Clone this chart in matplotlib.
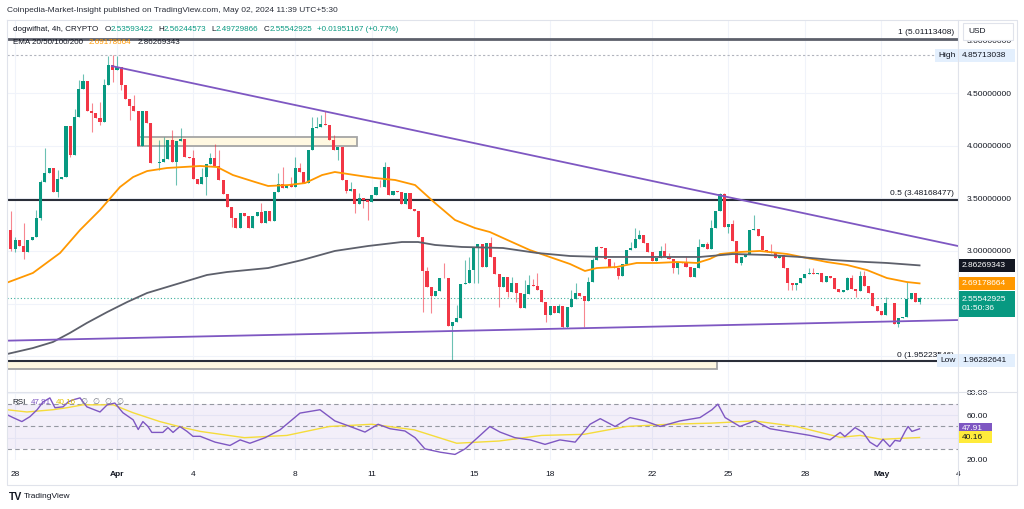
import matplotlib.pyplot as plt
from matplotlib.patches import Rectangle

plt.rcParams['font.family'] = ['Liberation Sans', 'DejaVu Sans']

# 4h candles, Mar 27 20:00 -> May 2 (closes, open = previous close)
first_open = 3.199
closes = [
    3.015, 3.104, 3.047, 2.993, 3.104, 3.129, 3.316, 3.658, 3.743, 3.791,
    3.556, 3.680, 3.705, 4.186, 3.911, 4.269, 4.535, 4.614, 4.332, 4.313,
    4.259, 4.224, 4.576, 4.766, 4.718, 4.750, 4.576, 4.440, 4.379, 4.329,
    3.996, 4.329, 4.218, 3.832, 3.838, 3.848, 3.870, 4.053, 3.848, 4.047,
    4.063, 3.889, 3.879, 3.680, 3.635, 3.705, 3.825, 3.879, 3.806, 3.673,
    3.540, 3.420, 3.316, 3.214, 3.357, 3.332, 3.214, 3.332, 3.373, 3.268,
    3.379, 3.284, 3.563, 3.635, 3.594, 3.626, 3.610, 3.784, 3.753, 3.648,
    3.958, 4.164, 4.174, 4.202, 4.196, 4.053, 3.958, 3.984, 3.673, 3.572,
    3.585, 3.446, 3.506, 3.484, 3.468, 3.531, 3.610, 3.604, 3.794, 3.531,
    3.572, 3.563, 3.446, 3.553, 3.395, 3.379, 3.129, 2.812, 2.654, 2.572,
    2.622, 2.746, 2.740, 2.287, 2.328, 2.360, 2.683, 2.698, 2.819, 3.025,
    3.066, 2.851, 3.072, 2.946, 2.781, 2.661, 2.750, 2.613, 2.692, 2.597,
    2.455, 2.591, 2.677, 2.670, 2.629, 2.518, 2.392, 2.477, 2.414, 2.477,
    2.281, 2.465, 2.541, 2.597, 2.572, 2.528, 2.702, 2.914, 3.034, 3.025,
    2.920, 2.851, 2.841, 2.762, 2.876, 3.009, 3.025, 3.110, 3.151, 3.079,
    2.993, 2.908, 2.930, 3.003, 2.939, 2.920, 2.841, 2.898, 2.889, 2.851,
    2.750, 2.835, 3.041, 3.066, 3.015, 3.215, 3.379, 3.538, 3.231, 3.256,
    3.098, 2.889, 2.940, 2.971, 3.199, 3.205, 3.142, 3.009, 2.993, 2.977,
    2.930, 2.961, 2.841, 2.692, 2.677, 2.692, 2.746, 2.781, 2.787, 2.781,
    2.794, 2.709, 2.762, 2.740, 2.635, 2.613, 2.629, 2.740, 2.635, 2.623,
    2.765, 2.667, 2.597, 2.477, 2.433, 2.392, 2.509, 2.503, 2.306, 2.360,
    2.370, 2.541, 2.604, 2.518, 2.555,
]
# wicks that stick out of the body (candle number counted from 1)
highs = {
    1: 3.38, 2: 3.135, 4: 3.27, 7: 3.39, 8: 3.674, 9: 3.974, 12: 3.768, 16: 4.348,
    17: 4.623, 18: 4.677, 20: 4.402, 22: 4.417, 23: 4.633, 24: 4.854, 25: 4.857,
    26: 4.854, 30: 4.481, 36: 4.053, 37: 4.085, 39: 4.148, 41: 4.164, 44: 3.958,
    46: 3.784, 48: 3.927, 49: 4.015, 50: 3.958, 60: 3.458, 64: 3.737, 65: 3.794,
    67: 3.705, 68: 3.895, 69: 3.832, 72: 4.269, 73: 4.269, 74: 4.291, 75: 4.332,
    77: 4.101, 81: 3.658, 83: 3.547, 88: 3.673, 89: 3.848, 99: 2.850, 103: 2.882,
    106: 2.486, 108: 2.914, 109: 2.945, 110: 3.04, 114: 3.136, 119: 2.756,
    122: 2.724, 123: 2.772, 124: 2.731, 125: 2.787, 130: 2.50, 133: 2.629,
    134: 2.692, 137: 2.756, 138: 2.930, 139: 3.047, 143: 2.897, 147: 3.088,
    148: 3.215, 149: 3.199, 154: 3.047, 155: 3.072, 156: 2.977, 160: 2.952,
    163: 3.113, 165: 3.088, 166: 3.294, 168: 3.554, 169: 3.554, 171: 3.294,
    176: 3.341, 180: 3.07, 189: 2.835, 190: 2.835, 198: 2.756, 199: 2.772,
    201: 2.813, 202: 2.813, 207: 2.566, 212: 2.708, 215: 2.562,
}
lows = {
    1: 3.00, 2: 2.99, 4: 2.92, 8: 3.293, 12: 3.515, 15: 3.889, 20: 4.132,
    22: 4.196, 25: 4.607, 27: 4.528, 29: 4.243, 36: 3.768, 40: 3.626, 47: 3.531,
    53: 3.230, 78: 3.863, 80: 3.547, 82: 3.357, 84: 3.404, 85: 3.294, 98: 2.423,
    100: 2.414, 105: 1.963, 110: 2.692, 111: 2.692, 116: 2.471, 118: 2.566,
    120: 2.518, 127: 2.328, 131: 2.265, 132: 2.265, 136: 2.275, 144: 2.731,
    157: 2.787, 158: 2.781, 170: 3.167, 173: 2.867, 184: 2.629, 185: 2.629,
    186: 2.629, 200: 2.566, 210: 2.275, 215: 2.497,
}

# EMA 50 (orange) and EMA 200 (grey), sampled at candle positions
ema50_x = [-0.9, 5.2, 11.6, 16.3, 21.0, 25.7, 28.8, 32.1, 36.8, 44.6, 48.6, 52.3, 57.5,
           60.6, 65.3, 69.3, 73.3, 76.3, 81.0, 85.7, 90.5, 95.2, 99.9, 104.6, 109.3,
           112.8, 117.5, 122.2, 126.9, 131.7, 135.2, 138.0, 142.7, 147.4, 152.1, 156.9,
           161.6, 164.6, 167.0, 171.7, 176.4, 182.8, 187.5, 192.2, 196.9, 201.6, 206.3,
           211.0, 214]
ema50_v = [2.699, 2.791, 2.981, 3.199, 3.389, 3.607, 3.702, 3.759, 3.788, 3.807, 3.797,
           3.721, 3.655, 3.617, 3.626, 3.645, 3.721, 3.750, 3.721, 3.693, 3.674, 3.626,
           3.455, 3.294, 3.218, 3.180, 3.094, 3.009, 2.943, 2.876, 2.810, 2.838, 2.848,
           2.886, 2.886, 2.895, 2.886, 2.924, 2.971, 2.990, 3.000, 2.971, 2.933, 2.895,
           2.867, 2.819, 2.743, 2.705, 2.692]
ema200_x = [-0.9, 5.2, 9.9, 13.9, 17.9, 22.7, 27.4, 32.1, 36.8, 41.5, 46.2, 50.9, 60.6,
            68.6, 76.3, 84.1, 92.1, 95.9, 99.9, 106.2, 115.9, 123.9, 131.7, 139.4, 147.4,
            155.2, 162.3, 170.0, 178.1, 185.8, 193.6, 201.6, 206.3, 214]
ema200_v = [2.021, 2.078, 2.135, 2.221, 2.316, 2.420, 2.515, 2.601, 2.658, 2.715, 2.772,
            2.800, 2.838, 2.914, 3.000, 3.047, 3.085, 3.085, 3.057, 3.038, 3.028, 2.981,
            2.952, 2.943, 2.943, 2.943, 2.943, 2.971, 2.962, 2.943, 2.914, 2.895, 2.886,
            2.863]

# RSI and its moving average
rsi_x = [-0.9, 0.5, 2.6, 4.5, 6.2, 7.6, 9.2, 10.4, 12.3, 13.5, 14.6, 16.3, 17.9, 21.0,
         22.7, 24.5, 26.4, 28.8, 30.0, 31.1, 32.3, 33.2, 35.8, 37.0, 38.2, 39.8, 41.5,
         42.9, 44.6, 48.1, 51.6, 54.0, 56.3, 59.9, 63.4, 68.1, 72.8, 76.3, 79.9, 83.4,
         86.5, 89.3, 92.8, 95.2, 97.5, 101.1, 104.6, 107.0, 110.5, 112.8, 115.2, 118.7,
         122.3, 125.8, 129.3, 132.9, 136.4, 138.8, 142.3, 145.8, 149.3, 152.9, 157.6,
         162.3, 165.1, 166.5, 168.2, 171.7, 175.2, 178.8, 183.5, 188.2, 192.9, 195.3,
         196.4, 198.8, 200.7, 202.3, 204.0, 205.4, 207.0, 208.2, 209.4, 210.6, 211.3,
         212.2, 214]
rsi_v = [60.6, 58, 54.4, 58.8, 65, 72, 75.6, 66.8, 67.6, 72, 73.8, 75.6, 67.6, 63, 69.4,
         71, 62.3, 56, 47.3, 54.4, 50, 44.7, 44.7, 49, 44.7, 50, 45.6, 41.2, 41.2, 36, 33,
         38, 35, 40, 47, 62, 65, 55, 50, 45, 52, 48, 46, 40, 30, 27, 25, 30, 42, 50, 45,
         40, 38, 34, 38, 36, 52, 57, 50, 58, 55, 50, 55, 58, 65, 70, 58, 50, 55, 48, 45,
         42, 38, 44.7, 41, 49, 44.7, 36, 32, 38.5, 32, 37.6, 36.8, 45.6, 50, 45.6, 47.91]
rsi_ma_x = [-0.9, 3.8, 9.9, 13.2, 17.0, 24.1, 28.8, 35.1, 40.6, 44.6, 55, 65, 75, 85, 95,
            105, 115, 125, 135, 145, 155, 165, 175, 185, 195.3, 200.0, 205.0, 214]
rsi_ma_v = [65, 63, 65, 66.8, 69.4, 69.4, 62.3, 54.4, 49, 45.6, 40, 42, 50, 52, 47, 35,
            37, 42, 43, 50, 52, 53, 55, 50, 40.3, 42, 38.5, 40.16]

# x axis: day labels, offset in days from Mar 28
day_offsets = [0, 4, 7, 11, 14, 18, 21, 25, 28, 31, 34, 37]
day_labels = ['28', 'Apr', '4', '8', '11', '15', '18', '22', '25', '28', 'May', '4']

# price scale labels (the ones hidden behind tags are left blank)
price_ticks = [2.0, 2.5, 3.0, 3.5, 4.0, 4.5, 5.0]
price_labels = ['', '', '3.00000000', '3.50000000', '4.00000000', '4.50000000',
                '5.00000000']
rsi_ticks = [20, 40, 60, 80]
rsi_labels = ['20.00', '', '60.00', '80.00']

# drawing levels
fib_levels = [5.01113408, 3.48168477, 1.95223546]
fib_names = ['1 (5.01113408)', '0.5 (3.48168477)', '0 (1.95223546)']
high_val, low_val = 4.85713038, 1.96282641
last_close, ema50_last, ema200_last = 2.55542925, 2.69178664, 2.86269343
rsi_last, rsi_ma_last = 47.91, 40.16
down_trend = ([23.8, 223.05], [4.756, 3.047])
up_trend = ([-0.9, 223.05], [2.148, 2.344])
zone_top = (30, 81.5, 3.997, 4.082)
zone_low = (-0.9, 166.3, 1.879, 1.955)

GREEN, RED = '#089981', '#f23645'
PURPLE, ORANGE, YELLOW = '#7e57c2', '#ff9800', '#f5dc3a'
TXT, GRID = '#131722', '#f0f3fa'
W, H = 1024, 509


def fx(px):
    return px / W


def fy(py):
    return 1 - py / H


fig = plt.figure(figsize=(10.24, 5.09), dpi=100)
ax = fig.add_axes([fx(7), fy(391), fx(958) - fx(7), fy(21) - fy(391)])
ax_rsi = fig.add_axes([fx(7), fy(460), fx(958) - fx(7), fy(392) - fy(460)])

xmin, xmax = -0.9, 223.05
day_pos = [1 + 6 * d for d in day_offsets]

# ---- price pane
opens = [first_open] + closes[:-1]
for i, (o, c) in enumerate(zip(opens, closes)):
    col = GREEN if c >= o else RED
    hi = highs.get(i + 1, max(o, c))
    lo = lows.get(i + 1, min(o, c))
    ax.vlines(i, lo, hi, color=col, lw=0.8, alpha=0.6, zorder=3)
    ax.bar(i, max(abs(c - o), 0.006), bottom=min(o, c), width=0.72, color=col,
           lw=0, zorder=4)

ax.plot(ema50_x, ema50_v, color=ORANGE, lw=1.3, zorder=5)
ax.plot(ema200_x, ema200_v, color='#5d606b', lw=1.3, zorder=5)
ax.plot(*down_trend, color=PURPLE, lw=1.3, zorder=6)
ax.plot(*up_trend, color=PURPLE, lw=1.3, zorder=6)

for (x0, x1, y0, y1) in [zone_top, zone_low]:
    ax.add_patch(Rectangle((x0, y0), x1 - x0, y1 - y0, fc='#fff8e1', ec='#a5a5a5',
                           lw=1.3, zorder=2))

ax.axhline(fib_levels[0], color='#5d606b', lw=2, zorder=3)
ax.axhline(fib_levels[1], color='#2a2e39', lw=1.5, zorder=3)
ax.axhline(fib_levels[2], color='#2a2e39', lw=1.5, zorder=3)
for lvl, name in zip(fib_levels, fib_names):
    ax.annotate(name, (xmax - 1, lvl), xytext=(0, 2), textcoords='offset points',
                ha='right', va='bottom', fontsize=6, color=TXT, zorder=7)

ax.axhline(high_val, color='#b2b5be', lw=0.8, ls=(0, (2, 2)), zorder=1)
ax.axhline(last_close, color=GREEN, lw=0.8, ls=(0, (1, 2)), alpha=0.8, zorder=1)

ax.set_xlim(xmin, xmax)
ax.set_ylim(1.670, 5.184)
ax.set_yticks(price_ticks)
ax.set_yticklabels(price_labels)
ax.yaxis.tick_right()
ax.set_xticks(day_pos)
ax.tick_params(axis='x', length=0, labelbottom=False)
ax.tick_params(axis='y', length=0, pad=6, labelsize=6, labelcolor=TXT)
ax.grid(True, color=GRID, lw=0.8, zorder=0)
ax.set_axisbelow(True)
for s in ax.spines.values():
    s.set_visible(False)

# ---- RSI pane
ax_rsi.axhspan(30, 70, color=PURPLE, alpha=0.09, lw=0)
for lvl in (70, 50, 30):
    ax_rsi.axhline(lvl, color='#9598a1', lw=0.8, ls=(0, (4, 3)))
ax_rsi.plot(rsi_x, rsi_v, color=PURPLE, lw=1.0, zorder=4)
ax_rsi.plot(rsi_ma_x, rsi_ma_v, color=YELLOW, lw=1.0, zorder=3)
ax_rsi.set_xlim(xmin, xmax)
ax_rsi.set_ylim(20.86, 80.88)
ax_rsi.set_yticks(rsi_ticks)
ax_rsi.set_yticklabels(rsi_labels)
ax_rsi.yaxis.tick_right()
ax_rsi.set_xticks(day_pos)
ax_rsi.set_xticklabels(day_labels)
for lab in ax_rsi.get_xticklabels():
    if lab.get_text() in ('Apr', 'May'):
        lab.set_fontweight('bold')
ax_rsi.tick_params(axis='x', length=0, pad=8, labelsize=6, labelcolor=TXT)
ax_rsi.tick_params(axis='y', length=0, pad=6, labelsize=6, labelcolor=TXT)
ax_rsi.grid(True, color=GRID, lw=0.8, zorder=0)
ax_rsi.set_axisbelow(True)
for s in ax_rsi.spines.values():
    s.set_visible(False)

# ---- overlay in pixel coordinates: frame, tags, header and legends
over = fig.add_axes([0, 0, 1, 1], zorder=10)
over.set_xlim(0, W)
over.set_ylim(H, 0)
over.axis('off')
over.patch.set_alpha(0)
frame = '#e0e3eb'
over.plot([7, 1017, 1017, 7, 7], [20, 20, 485, 485, 20], color=frame, lw=0.8)
over.plot([958, 958], [20, 485], color=frame, lw=0.8)
over.plot([7, 1017], [392, 392], color=frame, lw=0.8)
over.add_patch(Rectangle((963, 23), 50, 17, fc='white', ec=frame, lw=0.8))
over.text(968, 31.5, 'USD', fontsize=6, color=TXT, va='center')


def ypix(a, val):
    return H - a.transData.transform((0, val))[1]


def tag(a, val, text, fc, tc, x0=959, x1=1015, h=13, dy=0):
    y = ypix(a, val) + dy
    over.add_patch(Rectangle((x0, y - h / 2), x1 - x0, h, fc=fc, ec='none', zorder=5))
    over.text(x0 + 3, y, text, fontsize=6, color=tc, va='center', zorder=6,
              linespacing=1.45)


tag(ax, high_val, '%.8f' % high_val, '#e3effd', TXT)
tag(ax, high_val, 'High', '#e3effd', TXT, x0=935, x1=958)
tag(ax, ema200_last, '%.8f' % ema200_last, '#131722', 'white')
tag(ax, ema50_last, '%.8f' % ema50_last, ORANGE, 'white')
tag(ax, last_close, '%.8f\n01:50:36' % last_close, GREEN, 'white', h=26, dy=6)
tag(ax, low_val, '%.8f' % low_val, '#e3effd', TXT)
tag(ax, low_val, 'Low', '#e3effd', TXT, x0=937, x1=958)
tag(ax_rsi, rsi_last, '%.2f' % rsi_last, PURPLE, 'white', x1=992, h=12)
tag(ax_rsi, rsi_ma_last, '%.2f' % rsi_ma_last, '#ffeb3b', TXT, x1=992, h=12)

fig.text(fx(7), fy(10), 'Coinpedia-Market-Insight published on TradingView.com, '
         'May 02, 2024 11:39 UTC+5:30', fontsize=6, color='#2a2e39', va='center')

renderer = fig.canvas.get_renderer()


def row(x, y, parts, size=5.8):
    for s, c, gap in parts:
        t = over.text(x, y, s, fontsize=size, color=c, va='center')
        x += t.get_window_extent(renderer=renderer).width + gap


row(13, 29, [('dogwifhat, 4h, CRYPTO', TXT, 6), ('O', TXT, 0),
             ('2.53593422', GREEN, 5), ('H', TXT, 0), ('2.56244573', GREEN, 5),
             ('L', TXT, 0), ('2.49729866', GREEN, 5), ('C', TXT, 0),
             ('2.55542925', GREEN, 5), ('+0.01951167 (+0.77%)', GREEN, 0)])
row(13, 42, [('EMA 20/50/100/200', TXT, 6), ('2.69178664', ORANGE, 6),
             ('2.86269343', TXT, 0)])
row(12, 402, [('RSI', TXT, 5), ('47.91', PURPLE, 5), ('40.16', '#e0c200', 5),
              ('\u2205', '#787b86', 5), ('\u2205', '#787b86', 5),
              ('\u2205', '#787b86', 5), ('\u2205', '#787b86', 0)])

over.text(9, 497, 'TV', fontsize=7.5, fontweight='heavy', color=TXT, va='center')
over.text(24, 497, 'TradingView', fontsize=6, color=TXT, va='center')

fig.savefig('out.png', dpi=100)
